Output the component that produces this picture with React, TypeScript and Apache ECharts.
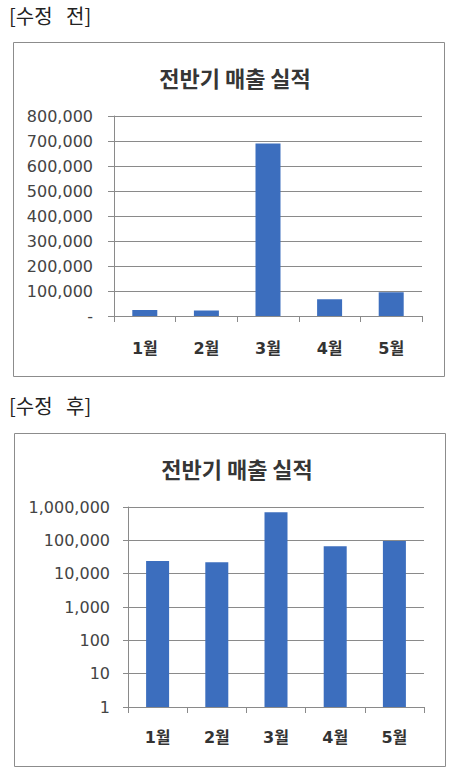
import React, { useEffect, useRef } from "react";
import * as echarts from "echarts";

const months = ["1월", "2월", "3월", "4월", "5월"];
const sales = [24000, 22000, 690000, 67000, 95000];
const linearTicks = [0, 100000, 200000, 300000, 400000, 500000, 600000, 700000, 800000];
const logTicks = [1, 10, 100, 1000, 10000, 100000, 1000000];
const chartTitle = "전반기 매출 실적";
const beforeLabel = "[수정   전]";
const afterLabel = "[수정   후]";

const BAR = "#3c6ebe";
const GRID = "#8a8a8a";
const FONT = "'DejaVu Sans', 'Noto Sans CJK KR', sans-serif";
const KFONT = "'Noto Sans CJK KR', sans-serif";

const fmt = (v: number) => (v === 0 ? "-" : Math.round(v).toLocaleString("en-US"));

export default function App() {
  const ref = useRef<HTMLDivElement>(null);
  useEffect(() => {
    const chart = echarts.init(ref.current!, null, { renderer: "svg" });
    const catAxis = (gridIndex: number, margin: number) => ({
      type: "category" as const,
      gridIndex,
      data: months,
      axisLine: { lineStyle: { color: GRID, width: 1 } },
      axisTick: { show: true, alignWithLabel: false, length: 6, lineStyle: { color: GRID } },
      axisLabel: { color: "#333", fontSize: 16, fontFamily: FONT, fontWeight: "bold", margin },
    });
    chart.setOption({
      animation: false,
      backgroundColor: "#ffffff",
      title: [
        {
          text: chartTitle,
          left: 230,
          top: 61,
          textAlign: "center",
          textStyle: { fontSize: 22, fontWeight: "bold", color: "#363636", fontFamily: KFONT },
        },
        {
          text: chartTitle,
          left: 232,
          top: 452,
          textAlign: "center",
          textStyle: { fontSize: 22, fontWeight: "bold", color: "#363636", fontFamily: KFONT },
        },
      ],
      graphic: [
        {
          type: "rect",
          shape: { x: 13.5, y: 42.5, width: 431, height: 334 },
          style: { fill: "none", stroke: "#8c8c8c", lineWidth: 1 },
          silent: true,
        },
        {
          type: "rect",
          shape: { x: 14.5, y: 433.5, width: 431, height: 333 },
          style: { fill: "none", stroke: "#8c8c8c", lineWidth: 1 },
          silent: true,
        },
        {
          type: "text",
          x: 9,
          y: 15,
          style: {
            text: beforeLabel,
            fontSize: 20,
            fill: "#222",
            fontFamily: KFONT,
            verticalAlign: "middle",
          },
        },
        {
          type: "text",
          x: 9,
          y: 405,
          style: {
            text: afterLabel,
            fontSize: 20,
            fill: "#222",
            fontFamily: KFONT,
            verticalAlign: "middle",
          },
        },
      ],
      grid: [
        { left: 114, right: 33, top: 116, height: 200 },
        { left: 128, right: 31, top: 507, height: 200 },
      ],
      xAxis: [catAxis(0, 24), catAxis(1, 22)],
      yAxis: [
        {
          type: "value",
          gridIndex: 0,
          min: linearTicks[0],
          max: linearTicks[linearTicks.length - 1],
          interval: linearTicks[1] - linearTicks[0],
          axisLine: { show: true, lineStyle: { color: GRID } },
          axisTick: { show: true, length: 6, lineStyle: { color: GRID } },
          splitLine: { show: true, lineStyle: { color: GRID, width: 1 } },
          axisLabel: { color: "#444", fontSize: 16, fontFamily: FONT, margin: 21, formatter: fmt },
        },
        {
          type: "log",
          logBase: 10,
          gridIndex: 1,
          min: logTicks[0],
          max: logTicks[logTicks.length - 1],
          axisLine: { show: true, lineStyle: { color: GRID } },
          axisTick: { show: true, length: 5, lineStyle: { color: GRID } },
          splitLine: { show: true, lineStyle: { color: GRID, width: 1 } },
          axisLabel: { color: "#444", fontSize: 16, fontFamily: FONT, margin: 18, formatter: fmt },
        },
      ],
      series: [
        {
          type: "bar",
          xAxisIndex: 0,
          yAxisIndex: 0,
          data: sales,
          barWidth: 25,
          itemStyle: { color: BAR },
        },
        {
          type: "bar",
          xAxisIndex: 1,
          yAxisIndex: 1,
          data: sales,
          barWidth: 23,
          itemStyle: { color: BAR },
        },
      ],
    });
    return () => chart.dispose();
  }, []);
  return (
    <div
      ref={ref}
      style={{ position: "fixed", left: 0, top: 0, width: 455, height: 771, background: "#fff" }}
    />
  );
}
